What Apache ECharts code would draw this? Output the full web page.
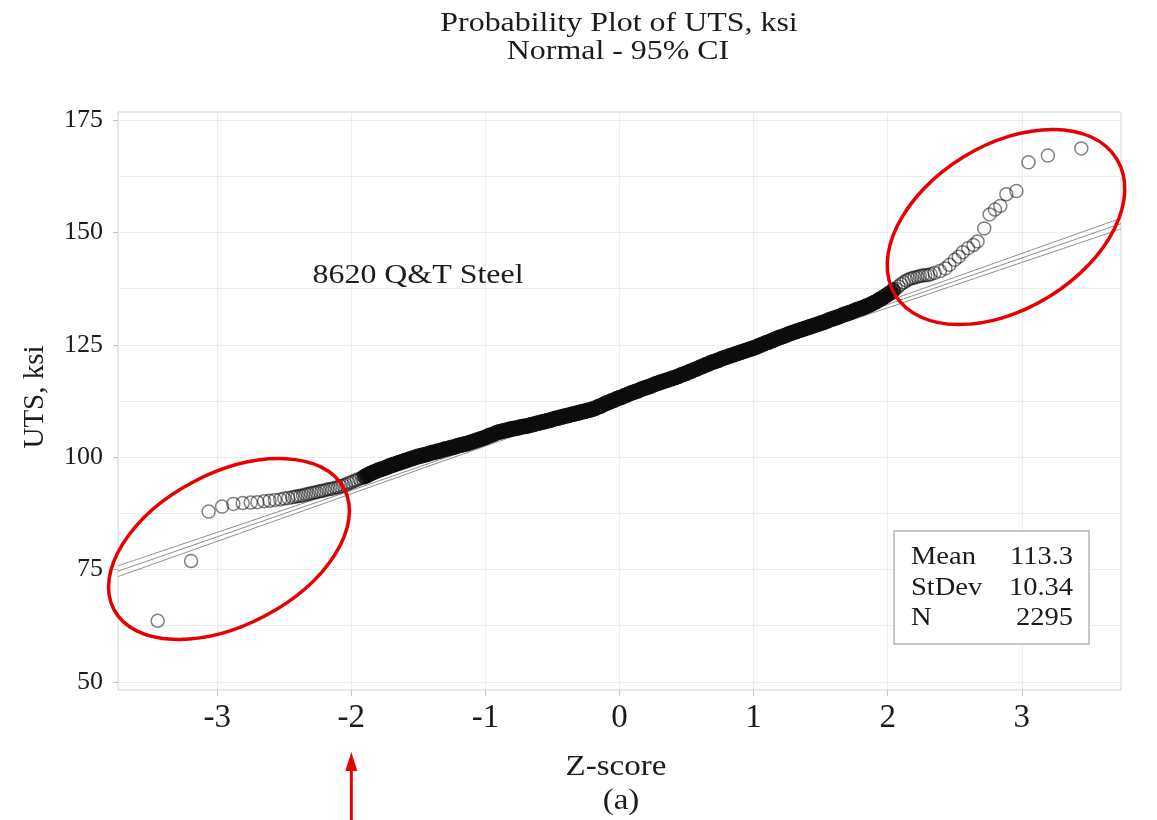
<!DOCTYPE html>
<html>
<head>
<meta charset="utf-8">
<script src="https://cdn.jsdelivr.net/npm/echarts@6/dist/echarts.min.js"></script>
<style>
  html, body { margin: 0; padding: 0; background: #ffffff; }
  #chart { width: 1157px; height: 820px; }
</style>
</head>
<body>
<div id="chart"></div>
<script>
// Axis ticks
const xTicks = [-3, -2, -1, 0, 1, 2, 3];
const yTicks = [50, 75, 100, 125, 150, 175];
const yGridValues = [50, 62.5, 75, 87.5, 100, 112.5, 125, 137.5, 150, 162.5, 175];

// Summary statistics of the sample
const meanUTS = 113.3;
const stdevUTS = 10.34;
const countUTS = 2295;

// 95% confidence band: half-width (ksi) around the fitted line at given z
const ciZ = [-3.74, -3, -2, -1, 0, 1, 2, 3, 3.74];
const ciHalfWidth = [1.2, 1.0, 0.75, 0.5, 0.42, 0.5, 0.75, 1.0, 1.2];

// Ordered observations: [z-score, UTS ksi]
// sparse lower end, drawn as open circles
const lowerTail = [
  [-3.444, 63.6], [-3.195, 76.9], [-3.064, 87.9], [-2.964, 89.0], [-2.88, 89.6],
  [-2.81, 89.8], [-2.75, 89.9], [-2.70, 90.0], [-2.65, 90.2], [-2.61, 90.3],
  [-2.57, 90.5], [-2.53, 90.6], [-2.50, 90.8], [-2.47, 90.9], [-2.44, 91.1], [-2.42, 91.2],
  [-2.40, 91.3], [-2.38, 91.4], [-2.36, 91.5], [-2.34, 91.7], [-2.32, 91.8],
  [-2.30, 92.0], [-2.28, 92.1], [-2.26, 92.2], [-2.24, 92.4], [-2.22, 92.5],
  [-2.20, 92.6], [-2.18, 92.8], [-2.16, 92.9], [-2.14, 93.0], [-2.12, 93.2],
  [-2.10, 93.3], [-2.08, 93.5], [-2.06, 93.7], [-2.04, 93.9], [-2.02, 94.2],
  [-2.00, 94.4], [-1.98, 94.7], [-1.96, 94.9], [-1.94, 95.2], [-1.92, 95.4]
];
// heavily overplotted middle of the distribution
const centralBand = [
  [-1.90, 95.7], [-1.88, 96.0], [-1.86, 96.3], [-1.84, 96.6], [-1.82, 96.8],
  [-1.80, 97.1], [-1.78, 97.3], [-1.76, 97.5], [-1.74, 97.7], [-1.72, 98.0],
  [-1.70, 98.2], [-1.68, 98.4], [-1.66, 98.6], [-1.64, 98.8], [-1.62, 99.0],
  [-1.60, 99.2], [-1.58, 99.4], [-1.56, 99.6], [-1.54, 99.8], [-1.52, 100.0],
  [-1.50, 100.2], [-1.48, 100.3], [-1.46, 100.5], [-1.44, 100.6], [-1.42, 100.8],
  [-1.40, 101.0], [-1.38, 101.1], [-1.36, 101.3], [-1.34, 101.4], [-1.32, 101.6],
  [-1.30, 101.8], [-1.28, 101.9], [-1.26, 102.1], [-1.24, 102.2], [-1.22, 102.4],
  [-1.20, 102.6], [-1.18, 102.7], [-1.16, 102.9], [-1.14, 103.0], [-1.12, 103.2],
  [-1.10, 103.4], [-1.08, 103.6], [-1.06, 103.8], [-1.04, 104.0], [-1.02, 104.2],
  [-1.00, 104.4], [-0.98, 104.7], [-0.96, 104.9], [-0.94, 105.1], [-0.92, 105.4],
  [-0.90, 105.6], [-0.88, 105.7], [-0.86, 105.9], [-0.84, 106.0], [-0.82, 106.2],
  [-0.80, 106.3], [-0.78, 106.4], [-0.76, 106.5], [-0.74, 106.7], [-0.72, 106.8],
  [-0.70, 106.9], [-0.68, 107.0], [-0.66, 107.2], [-0.64, 107.3], [-0.62, 107.5],
  [-0.60, 107.6], [-0.58, 107.8], [-0.56, 107.9], [-0.54, 108.1], [-0.52, 108.2],
  [-0.50, 108.4], [-0.48, 108.6], [-0.46, 108.7], [-0.44, 108.9], [-0.42, 109.0],
  [-0.40, 109.2], [-0.38, 109.3], [-0.36, 109.5], [-0.34, 109.6], [-0.32, 109.8],
  [-0.30, 109.9], [-0.28, 110.1], [-0.26, 110.2], [-0.24, 110.4], [-0.22, 110.5],
  [-0.20, 110.7], [-0.18, 110.9], [-0.16, 111.2], [-0.14, 111.4], [-0.12, 111.7],
  [-0.10, 112.0], [-0.08, 112.2], [-0.06, 112.5], [-0.04, 112.7], [-0.02, 113.0],
  [0.00, 113.2], [0.02, 113.4], [0.04, 113.7], [0.06, 113.9], [0.08, 114.2],
  [0.10, 114.4], [0.12, 114.6], [0.14, 114.8], [0.16, 115.1], [0.18, 115.3],
  [0.20, 115.5], [0.22, 115.7], [0.24, 115.9], [0.26, 116.2], [0.28, 116.4],
  [0.30, 116.6], [0.32, 116.8], [0.34, 117.0], [0.36, 117.2], [0.38, 117.4],
  [0.40, 117.6], [0.42, 117.8], [0.44, 118.0], [0.46, 118.3], [0.48, 118.5],
  [0.50, 118.7], [0.52, 119.0], [0.54, 119.2], [0.56, 119.5], [0.58, 119.7],
  [0.60, 120.0], [0.62, 120.2], [0.64, 120.5], [0.66, 120.7], [0.68, 121.0],
  [0.70, 121.2], [0.72, 121.4], [0.74, 121.6], [0.76, 121.9], [0.78, 122.1],
  [0.80, 122.3], [0.82, 122.5], [0.84, 122.7], [0.86, 122.9], [0.88, 123.1],
  [0.90, 123.3], [0.92, 123.5], [0.94, 123.7], [0.96, 123.9], [0.98, 124.1],
  [1.00, 124.3], [1.02, 124.5], [1.04, 124.8], [1.06, 125.0], [1.08, 125.3],
  [1.10, 125.5], [1.12, 125.7], [1.14, 126.0], [1.16, 126.2], [1.18, 126.5],
  [1.20, 126.7], [1.22, 126.9], [1.24, 127.1], [1.26, 127.4], [1.28, 127.6],
  [1.30, 127.8], [1.32, 128.0], [1.34, 128.2], [1.36, 128.4], [1.38, 128.6],
  [1.40, 128.8], [1.42, 129.0], [1.44, 129.2], [1.46, 129.4], [1.48, 129.6],
  [1.50, 129.8], [1.52, 130.0], [1.54, 130.2], [1.56, 130.5], [1.58, 130.7],
  [1.60, 130.9], [1.62, 131.1], [1.64, 131.3], [1.66, 131.6], [1.68, 131.8],
  [1.70, 132.0], [1.72, 132.2], [1.74, 132.4], [1.76, 132.7], [1.78, 132.9],
  [1.80, 133.1], [1.82, 133.3], [1.84, 133.6], [1.86, 133.8], [1.88, 134.1],
  [1.90, 134.4], [1.92, 134.7], [1.94, 135.1], [1.96, 135.4], [1.98, 135.8],
  [2.00, 136.2], [2.02, 136.6], [2.04, 137.1]
];
// sparse upper end, drawn as open circles
const upperTail = [
  [2.06, 137.5], [2.08, 138.0], [2.10, 138.5],
  [2.12, 138.9], [2.14, 139.3], [2.16, 139.6], [2.18, 139.8], [2.20, 140.0],
  [2.22, 140.1], [2.24, 140.3], [2.26, 140.4], [2.28, 140.5], [2.30, 140.5],
  [2.32, 140.7], [2.35, 141.0], [2.39, 141.4], [2.43, 142.0], [2.46, 142.8],
  [2.50, 143.9], [2.53, 144.6], [2.56, 145.6], [2.60, 146.5], [2.64, 147.2],
  [2.67, 148.0], [2.72, 150.9], [2.76, 154.0], [2.80, 155.1], [2.84, 155.9],
  [2.885, 158.5], [2.96, 159.2], [3.05, 165.6], [3.195, 167.1], [3.444, 168.7]
];

const SERIF = '"Liberation Serif", "Times New Roman", serif';
const INK = '#1c1c1c';
const RED = '#e60000';

const fitLine = ciZ.map(z => [z, meanUTS + stdevUTS * z]);
const ciUpper = ciZ.map((z, i) => [z, meanUTS + stdevUTS * z + ciHalfWidth[i]]);
const ciLower = ciZ.map((z, i) => [z, meanUTS + stdevUTS * z - ciHalfWidth[i]]);

const chart = echarts.init(document.getElementById('chart'), null, { renderer: 'canvas' });

const refLine = { color: '#8e8e8e', width: 1 };
const openCircle = { color: 'rgba(255,255,255,0)', borderColor: 'rgba(0,0,0,0.62)', borderWidth: 1.5 };

chart.setOption({
  animation: false,
  backgroundColor: '#ffffff',
  grid: {
    left: 118, right: 36, top: 112, bottom: 130,
    show: true, borderColor: '#d2d2d2', borderWidth: 1, backgroundColor: 'transparent'
  },
  xAxis: {
    type: 'value',
    min: -3.74, max: 3.74,
    axisLine: { show: false, onZero: false },
    axisTick: { show: true, customValues: xTicks, length: 6, lineStyle: { color: '#c4c4c4' } },
    axisLabel: {
      customValues: xTicks, margin: 12,
      fontFamily: SERIF, fontSize: 33, color: INK
    },
    splitLine: { show: true, lineStyle: { color: '#ededed', width: 1 } }
  },
  yAxis: [
    {
      type: 'value',
      position: 'left',
      min: 48.2, max: 176.8,
      axisLine: { show: false, onZero: false },
      axisTick: { show: true, customValues: yTicks, length: 5, lineStyle: { color: '#c4c4c4' } },
      axisLabel: {
        customValues: yTicks, margin: 15,
        fontFamily: SERIF, fontSize: 26, color: INK
      },
      splitLine: { show: false }
    },
    {
      type: 'value',
      position: 'left',
      min: 48.2, max: 176.8,
      axisLine: { show: false, onZero: false },
      axisTick: { show: false, customValues: yGridValues },
      axisLabel: { show: false },
      splitLine: { show: true, lineStyle: { color: '#ededed', width: 1 } }
    }
  ],
  series: [
    {
      name: 'Lower CI', type: 'line', data: ciLower, smooth: true,
      showSymbol: false, lineStyle: refLine, silent: true, z: 2
    },
    {
      name: 'Fit', type: 'line', data: fitLine,
      showSymbol: false, lineStyle: refLine, silent: true, z: 2
    },
    {
      name: 'Upper CI', type: 'line', data: ciUpper, smooth: true,
      showSymbol: false, lineStyle: refLine, silent: true, z: 2
    },
    {
      name: 'UTS (overplotted)', type: 'scatter', data: centralBand,
      symbol: 'circle', symbolSize: 15, large: false, silent: true, z: 3,
      itemStyle: { color: '#0d0d0d', borderColor: '#0d0d0d', borderWidth: 1 }
    },
    {
      name: 'UTS lower', type: 'scatter', data: lowerTail,
      symbol: 'circle', symbolSize: 13, large: false, silent: true, z: 4,
      itemStyle: openCircle
    },
    {
      name: 'UTS upper', type: 'scatter', data: upperTail,
      symbol: 'circle', symbolSize: 13, large: false, silent: true, z: 4,
      itemStyle: openCircle
    }
  ]
});

// Annotations and text blocks
const arrowX = chart.convertToPixel({ xAxisIndex: 0 }, -2);

function serifText(x, y, text, size, align) {
  return {
    type: 'text', x: x, y: y, scaleX: 1.14,
    style: {
      text: text, fontFamily: SERIF, fontSize: size, fill: INK,
      textAlign: align || 'center', textVerticalAlign: 'middle'
    },
    z: 50
  };
}

chart.setOption({
  graphic: [
    serifText(619, 24, 'Probability Plot of UTS, ksi', 28),
    serifText(618, 52, 'Normal - 95% CI', 28),
    serifText(418, 276, '8620 Q&T Steel', 28),
    serifText(616, 767, 'Z-score', 29),
    serifText(621, 801, '(a)', 29),
    {
      type: 'text', x: 35, y: 397, rotation: Math.PI / 2,
      style: {
        text: 'UTS, ksi', fontFamily: SERIF, fontSize: 29, fill: INK,
        textAlign: 'center', textVerticalAlign: 'middle'
      },
      z: 50
    },
    // statistics box
    {
      type: 'rect', shape: { x: 894, y: 531, width: 195, height: 113 },
      style: { fill: '#ffffff', stroke: '#b4b4b4', lineWidth: 1.5 }, z: 40
    },
    serifText(911, 557, 'Mean', 25, 'left'),
    serifText(911, 588, 'StDev', 25, 'left'),
    serifText(911, 618, 'N', 25, 'left'),
    serifText(1073, 557, String(meanUTS), 25, 'right'),
    serifText(1073, 588, String(stdevUTS), 25, 'right'),
    serifText(1073, 618, String(countUTS), 25, 'right'),
    // red outlines around the tails
    {
      type: 'ellipse', x: 229, y: 549, rotation: 0.483,
      shape: { cx: 0, cy: 0, rx: 130, ry: 76 },
      style: { fill: 'none', stroke: RED, lineWidth: 3.5 }, z: 60
    },
    {
      type: 'ellipse', x: 1006, y: 227, rotation: 0.552,
      shape: { cx: 0, cy: 0, rx: 130, ry: 82 },
      style: { fill: 'none', stroke: RED, lineWidth: 3.5 }, z: 60
    },
    // arrow pointing at z = -2
    {
      type: 'line', shape: { x1: arrowX, y1: 820, x2: arrowX, y2: 766 },
      style: { stroke: RED, lineWidth: 3 }, z: 60
    },
    {
      type: 'polygon', shape: { points: [[arrowX, 752], [arrowX - 6, 771], [arrowX + 6, 771]] },
      style: { fill: RED }, z: 60
    }
  ]
});
</script>
</body>
</html>
